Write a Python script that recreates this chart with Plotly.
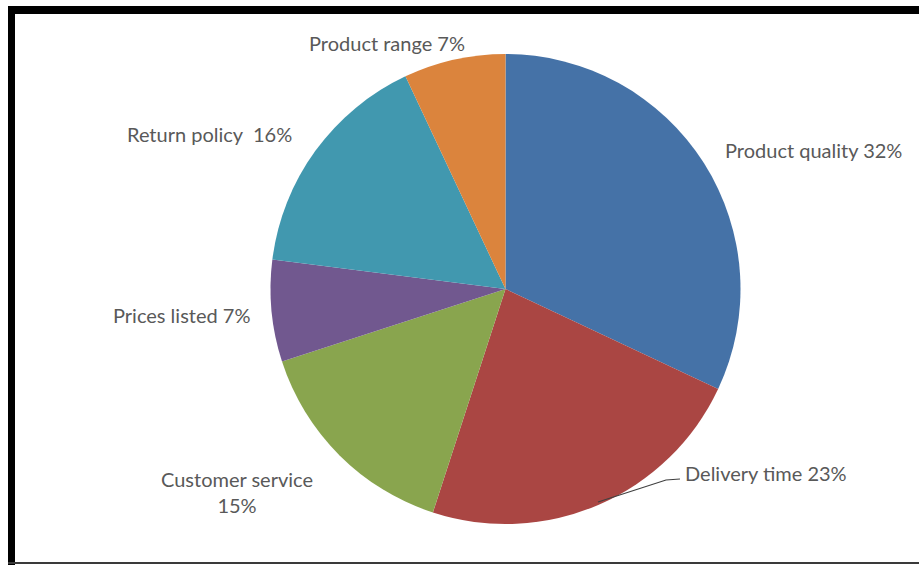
import plotly.graph_objects as go

# Survey data: reasons for customer satisfaction
categories = ["Product quality", "Delivery time", "Customer service",
              "Prices listed", "Return policy", "Product range"]
shares = [32, 23, 15, 7, 16, 7]
colors = ["#4572A7", "#AA4643", "#89A54E", "#71588F", "#4198AF", "#DB843D"]

W, H = 919, 565


def px(x):
    return x / W


def py(y):
    return 1 - y / H


cx, cy, r = 505.5, 289, 235

fig = go.Figure(go.Pie(
    labels=categories,
    values=shares,
    sort=False,
    direction="clockwise",
    rotation=0,
    marker=dict(colors=colors, line=dict(width=0)),
    textinfo="none",
    hoverinfo="label+percent",
    showlegend=False,
    domain=dict(x=[px(cx - r), px(cx + r)], y=[py(cy + r), py(cy - r)]),
))

# label placement (pixel anchor, x-anchor, line break)
label_pos = {
    "Product quality": (723, 150, "left", False),
    "Delivery time": (683, 473, "left", False),
    "Customer service": (237, 492, "center", True),
    "Prices listed": (252, 315, "right", False),
    "Return policy": (294, 134, "right", False),
    "Product range": (387, 43, "center", False),
}
spacing = {"Return policy": "  "}

annotations = []
for name, val in zip(categories, shares):
    x, y, anchor, wrap = label_pos[name]
    sep = "<br>" if wrap else spacing.get(name, " ")
    annotations.append(dict(
        x=px(x), y=py(y), xref="paper", yref="paper",
        text=f"{name}{sep}{val}%", showarrow=False,
        xanchor=anchor, yanchor="middle", align="center",
        font=dict(family="Lato", size=20, color="#595959"),
    ))

shapes = [
    # leader line for the delivery time label
    dict(type="path", xref="paper", yref="paper",
         path=f"M {px(598)} {py(502)} L {px(666)} {py(480)} L {px(680)} {py(479)}",
         line=dict(color="#404040", width=1.2)),
    # frame
    dict(type="line", xref="paper", yref="paper",
         x0=px(8), x1=1, y0=py(10), y1=py(10),
         line=dict(color="#000000", width=8)),
    dict(type="line", xref="paper", yref="paper",
         x0=px(11.5), x1=px(11.5), y0=py(6), y1=py(565),
         line=dict(color="#000000", width=7)),
    dict(type="line", xref="paper", yref="paper",
         x0=px(8), x1=1, y0=py(563), y1=py(563),
         line=dict(color="#3a3a3a", width=2)),
]

fig.update_layout(
    width=W, height=H,
    margin=dict(l=0, r=0, t=0, b=0),
    paper_bgcolor="white",
    plot_bgcolor="white",
    annotations=annotations,
    shapes=shapes,
)

fig.write_html("out.html")
